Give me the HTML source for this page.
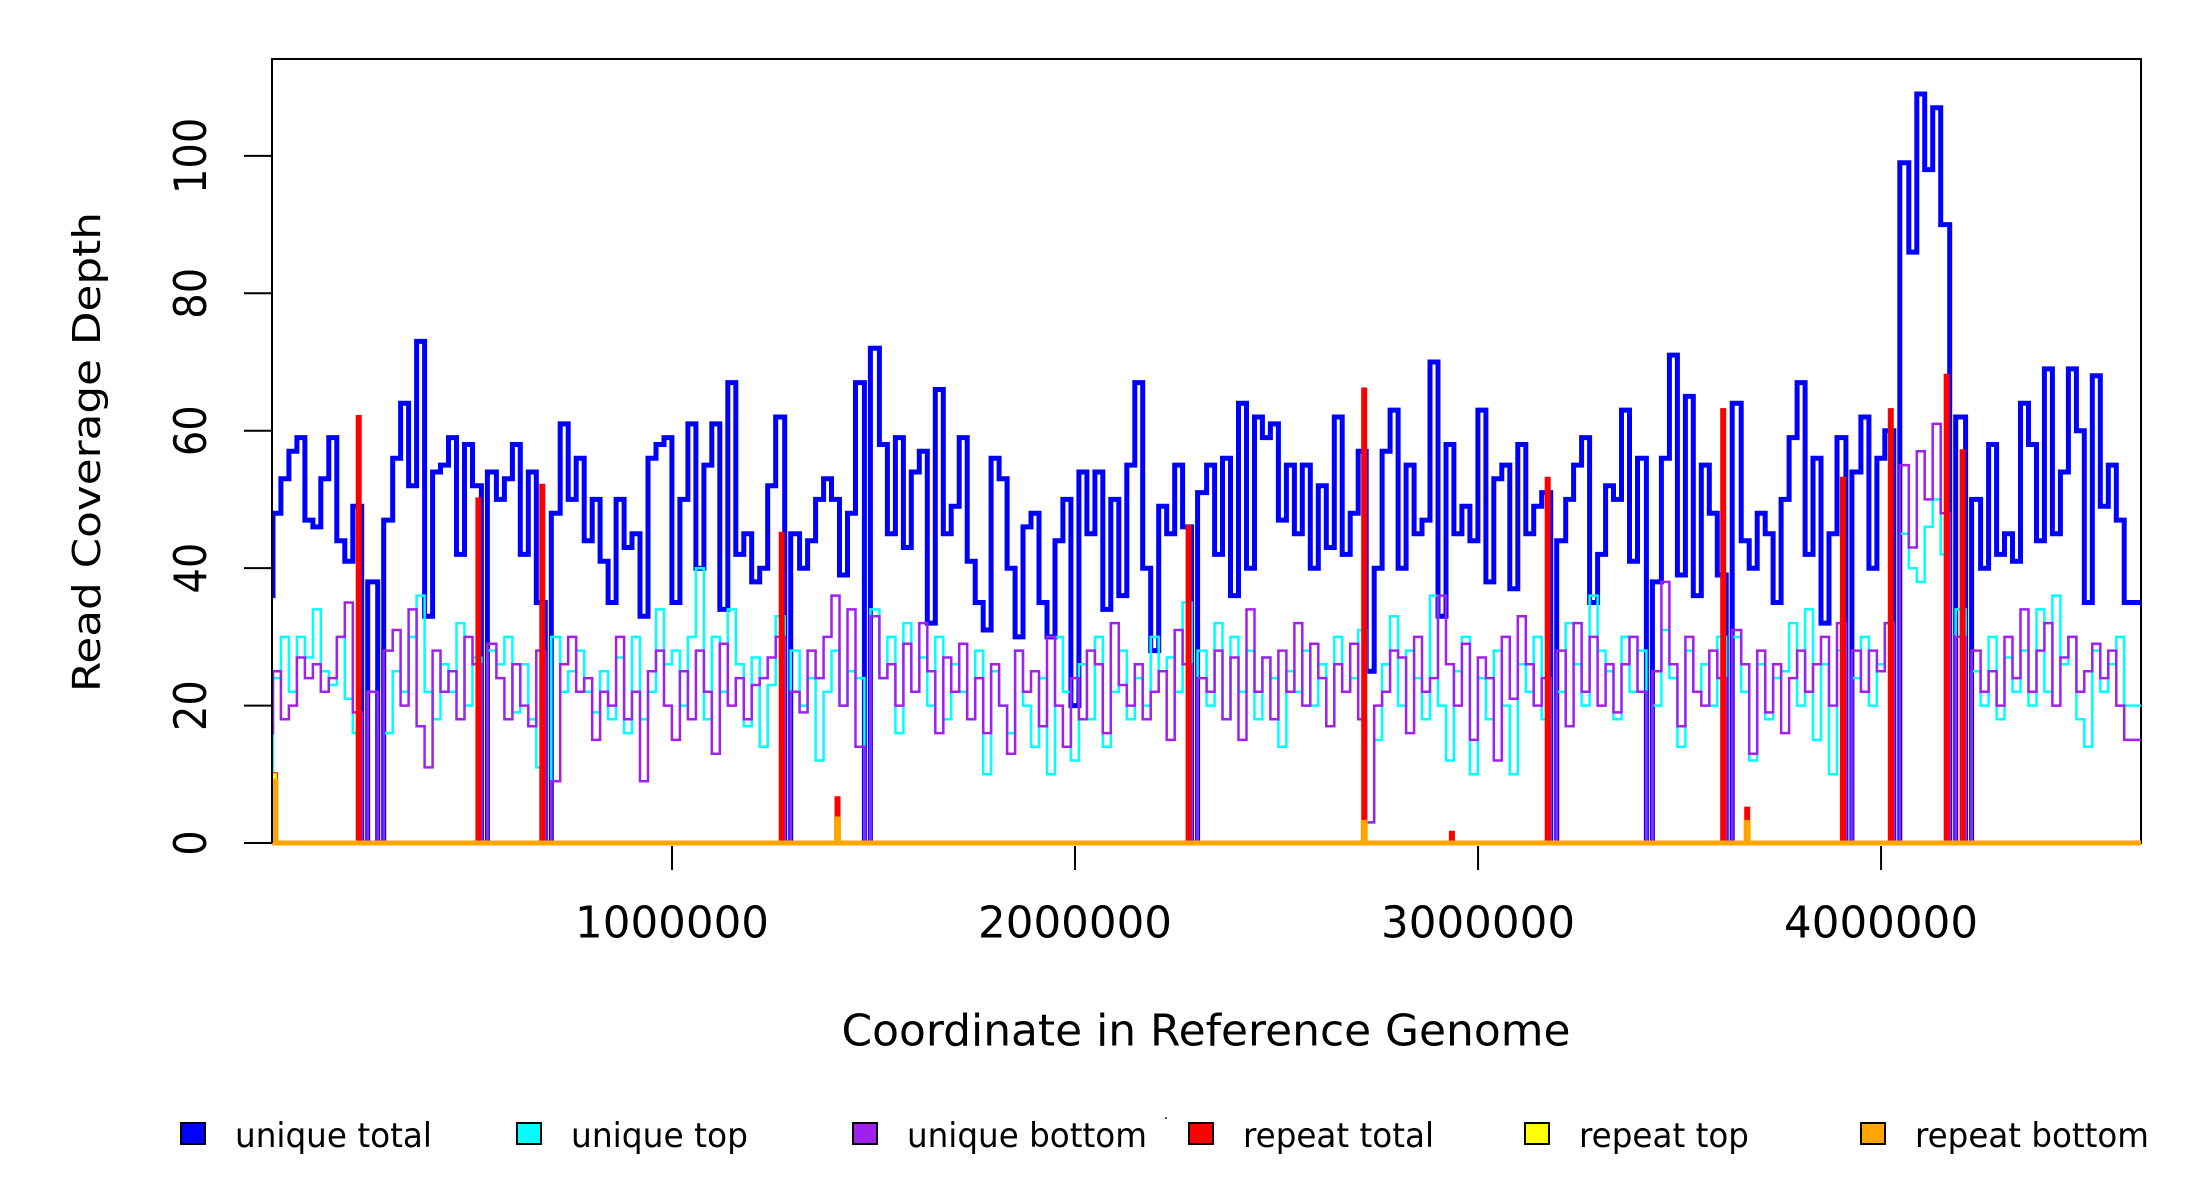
<!DOCTYPE html>
<html><head><meta charset="utf-8"><style>
html,body{margin:0;padding:0;background:#fff;}
svg{display:block;font-family:"DejaVu Sans","Liberation Sans",sans-serif;}
</style></head><body>
<svg id="chart" width="2200" height="1200" viewBox="0 0 2200 1200" xmlns="http://www.w3.org/2000/svg">
<defs><clipPath id="plotclip"><rect x="272" y="59" width="1869" height="790"/></clipPath></defs>
<rect x="0" y="0" width="2200" height="1200" fill="#fff"/>
<rect x="272" y="59" width="1869" height="784" fill="none" stroke="#000" stroke-width="2"/>
<g id="series" clip-path="url(#plotclip)"></g>
<line x1="272" y1="59" x2="272" y2="843" stroke="#000" stroke-width="2"/>
<g id="axes"></g>
<text x="87" y="452" transform="rotate(-90 87 452)" text-anchor="middle" dominant-baseline="central" font-size="38" textLength="480" lengthAdjust="spacingAndGlyphs">Read Coverage Depth</text>
<text x="1206" y="1031" text-anchor="middle" dominant-baseline="central" font-size="44" textLength="729" lengthAdjust="spacingAndGlyphs">Coordinate in Reference Genome</text>
<g id="legend"></g>
<rect x="1165" y="1117" width="2" height="2" fill="#555"/>
</svg>
<script>
const binStart = -10000;
const binWidth = 19800;
const yTicks = [0, 20, 40, 60, 80, 100];
const xTicks = [1000000, 2000000, 3000000, 4000000];
const xTickLabels = ["1000000", "2000000", "3000000", "4000000"];
const uniqueTotal = [36,48,53,57,59,47,46,53,59,44,
41,49,0,38,0,47,56,64,52,73,
33,54,55,59,42,58,52,0,54,50,
53,58,42,54,35,0,48,61,50,56,
44,50,41,35,50,43,45,33,56,58,
59,35,50,61,40,55,61,34,67,42,
45,38,40,52,62,0,45,40,44,50,
53,50,39,48,67,0,72,58,45,59,
43,54,57,32,66,45,49,59,41,35,
31,56,53,40,30,46,48,35,30,44,
50,20,54,45,54,34,50,36,55,67,
40,28,49,45,55,46,0,51,55,42,
56,36,64,40,62,59,61,47,55,45,
55,40,52,43,62,42,48,57,25,40,
57,63,40,55,45,47,70,33,58,45,
49,44,63,38,53,55,37,58,45,49,
51,0,44,50,55,59,35,42,52,50,
63,41,56,0,38,56,71,39,65,36,
55,48,39,0,64,44,40,48,45,35,
50,59,67,42,56,32,45,59,0,54,
62,40,56,60,0,99,86,109,98,107,
90,0,62,0,50,40,58,42,45,41,
64,58,44,69,45,54,69,60,35,68,
49,55,47,35,35];
const uniqueTop = [10,24,30,22,30,27,34,25,23,30,
21,16,0,22,0,16,25,22,30,36,
22,18,26,22,32,20,27,0,28,26,
30,19,26,18,11,0,30,22,25,28,
22,19,25,18,27,16,30,18,22,34,
26,28,20,30,40,18,30,22,34,26,
17,27,14,23,33,0,28,20,24,12,
22,28,20,25,24,0,34,24,30,16,
32,22,27,20,30,18,26,22,18,28,
10,25,20,16,28,20,14,24,10,30,
22,12,26,18,30,14,22,28,18,24,
20,30,25,27,22,35,0,28,20,32,
18,30,22,28,18,27,24,14,25,22,
28,20,26,17,30,22,24,31,3,15,
26,33,20,28,24,18,36,20,12,25,
30,10,24,18,28,20,10,26,22,30,
18,0,22,32,26,20,36,28,25,18,
30,22,28,0,20,31,24,14,28,22,
26,20,30,0,30,22,12,26,18,24,
25,32,20,34,15,26,10,28,0,24,
30,20,26,32,0,45,40,38,46,50,
42,0,34,0,25,20,30,18,27,22,
28,20,34,22,36,26,30,18,14,28,
22,26,30,20,20];
const uniqueBottom = [16,25,18,20,27,24,26,22,24,30,
35,19,0,22,0,28,31,20,34,17,
11,28,22,25,18,30,26,0,29,24,
18,26,20,17,28,0,9,26,30,22,
24,15,22,20,30,18,22,9,25,28,
20,15,25,18,28,22,13,29,20,24,
18,23,24,27,30,0,22,19,28,24,
30,36,20,34,14,0,33,24,26,20,
29,22,32,25,16,27,22,29,18,24,
16,26,20,13,28,22,25,17,30,20,
14,24,18,28,26,16,32,23,20,26,
18,22,25,15,31,26,0,24,22,28,
18,27,15,34,22,27,18,28,22,32,
20,29,24,17,26,22,29,18,3,20,
22,28,27,16,30,22,24,36,26,20,
29,15,27,24,12,30,21,33,26,20,
24,0,28,17,32,22,30,20,26,19,
26,30,22,0,25,38,26,17,30,22,
20,28,24,0,31,26,13,28,19,26,
16,24,28,22,26,30,20,32,0,28,
22,28,25,32,0,55,43,57,50,61,
48,0,30,0,28,22,25,20,30,24,
34,22,28,32,20,27,30,22,25,29,
24,28,20,15,15];
const repeatSpikeBins = [0, 12, 27, 35, 65, 72, 116, 138, 149, 161, 183, 186, 198, 204, 211, 213];
const repeatTotalSpikes = [10, 62, 50, 52, 45, 6.5, 46, 66, 1.5, 53, 63, 5, 53, 63, 68, 57];
const repeatTopSpikes = [10, 0, 0, 0, 0, 3.5, 0, 3, 0, 0, 0, 3, 0, 0, 0, 0];
const repeatBottomSpikes = [9, 0, 0, 0, 0, 3.5, 0, 3, 0, 0, 0, 3, 0, 0, 0, 0];

const X0 = 272, X1 = 2141, XMIN = 7400, XMAX = 4645000;
const Y0 = 843, YTOP = 59, YMAXV = 114.1;
const NARROW = 3;
function xs(v){ return X0 + (v - XMIN) / (XMAX - XMIN) * (X1 - X0); }
function ys(v){ return Y0 - v / YMAXV * (Y0 - YTOP); }
const NS = "http://www.w3.org/2000/svg";
function expand(bins, vals){
  const a = new Array(uniqueTotal.length).fill(0);
  bins.forEach((b, k) => { a[b] = vals[k]; });
  return a;
}
function binEdges(i, n){
  const xa = xs(binStart + i * binWidth);
  const xb = i === n - 1 ? xs(XMAX) + 5 : xs(binStart + (i + 1) * binWidth);
  return [xa, xb];
}
function dipPath(vals){
  const pts = [];
  const n = vals.length;
  for (let i = 0; i < n; i++){
    const [xa, xb] = binEdges(i, n);
    if (vals[i] === 0){
      const prev = i > 0 ? vals[i - 1] : vals[i + 1];
      const next = i < n - 1 ? vals[i + 1] : prev;
      const xm = (xa + xb) / 2;
      pts.push([xa, prev], [xm - NARROW, prev], [xm - NARROW, 0], [xm + NARROW, 0], [xm + NARROW, next], [xb, next]);
    } else {
      pts.push([xa, vals[i]], [xb, vals[i]]);
    }
  }
  return pts.map((p, k) => (k ? "L" : "M") + p[0].toFixed(1) + "," + ys(p[1]).toFixed(1)).join("");
}
function spikePath(vals, half){
  const pts = [];
  const n = vals.length;
  for (let i = 0; i < n; i++){
    const [xa, xb] = binEdges(i, n);
    if (vals[i] !== 0){
      const xm = i === 0 ? xa + 10 : (xa + xb) / 2 - 6;
      pts.push([xa, 0], [xm - half, 0], [xm - half, vals[i]], [xm + half, vals[i]], [xm + half, 0], [xb, 0]);
    } else {
      pts.push([xa, 0], [xb, 0]);
    }
  }
  return pts.map((p, k) => (k ? "L" : "M") + p[0].toFixed(1) + "," + ys(p[1]).toFixed(1)).join("");
}
const seriesG = document.getElementById("series");
const seriesDefs = [
  ["unique-total-line", dipPath(uniqueTotal), "#0000FF", 5],
  ["unique-top-line", dipPath(uniqueTop), "#00FFFF", 2.5],
  ["unique-bottom-line", dipPath(uniqueBottom), "#A020F0", 2.5],
  ["repeat-total-line", spikePath(expand(repeatSpikeBins, repeatTotalSpikes), 1), "#FF0000", 4],
  ["repeat-top-line", spikePath(expand(repeatSpikeBins, repeatTopSpikes), 1), "#FFFF00", 2],
  ["repeat-bottom-line", spikePath(expand(repeatSpikeBins, repeatBottomSpikes), 1), "#FFA500", 5]
];
seriesDefs.forEach(s => {
  const p = document.createElementNS(NS, "path");
  p.setAttribute("d", s[1]);
  p.setAttribute("fill", "none");
  p.setAttribute("stroke", s[2]);
  p.setAttribute("stroke-width", s[3]);
  
  
  seriesG.appendChild(p);
});
const axes = document.getElementById("axes");
yTicks.forEach(t => {
  const y = ys(t);
  const l = document.createElementNS(NS, "line");
  l.setAttribute("x1", 244); l.setAttribute("x2", 272);
  l.setAttribute("y1", y); l.setAttribute("y2", y);
  l.setAttribute("stroke", "#000"); l.setAttribute("stroke-width", 2);
  
  
  axes.appendChild(l);
  const tx = document.createElementNS(NS, "text");
  tx.setAttribute("x", 0); tx.setAttribute("y", 0);
  tx.setAttribute("transform", "translate(192 " + y + ") rotate(-90) scale(1 1.12)");
  tx.setAttribute("text-anchor", "middle");
  tx.setAttribute("dominant-baseline", "central");
  tx.setAttribute("font-size", "40");
  tx.textContent = String(t);
  
  
  axes.appendChild(tx);
});
xTicks.forEach((t, k) => {
  const x = xs(t);
  const l = document.createElementNS(NS, "line");
  l.setAttribute("x1", x); l.setAttribute("x2", x);
  l.setAttribute("y1", 846); l.setAttribute("y2", 870);
  l.setAttribute("stroke", "#000"); l.setAttribute("stroke-width", 2);
  
  
  axes.appendChild(l);
  const tx = document.createElementNS(NS, "text");
  tx.setAttribute("x", x); tx.setAttribute("y", 923);
  tx.setAttribute("text-anchor", "middle");
  tx.setAttribute("dominant-baseline", "central");
  tx.setAttribute("font-size", "44");
  tx.setAttribute("textLength", "194");
  tx.setAttribute("lengthAdjust", "spacingAndGlyphs");
  tx.textContent = xTickLabels[k];
  
  
  axes.appendChild(tx);
});
const legendNames = ["unique total", "unique top", "unique bottom", "repeat total", "repeat top", "repeat bottom"];
const legendColors = ["#0000FF", "#00FFFF", "#A020F0", "#FF0000", "#FFFF00", "#FFA500"];
const legendTextLen = [197, 177, 240, 191, 170, 234];
const legend = document.getElementById("legend");
legendNames.forEach((n, i) => {
  const x = 181 + i * 336;
  const r = document.createElementNS(NS, "rect");
  r.setAttribute("x", x); r.setAttribute("y", 1123);
  r.setAttribute("width", 24); r.setAttribute("height", 21);
  r.setAttribute("fill", legendColors[i]); r.setAttribute("stroke", "#000"); r.setAttribute("stroke-width", 2);
  
  
  legend.appendChild(r);
  const tx = document.createElementNS(NS, "text");
  tx.setAttribute("x", x + 54); tx.setAttribute("y", 1136);
  tx.setAttribute("dominant-baseline", "central");
  tx.setAttribute("font-size", "34");
  tx.setAttribute("textLength", legendTextLen[i]);
  tx.setAttribute("lengthAdjust", "spacingAndGlyphs");
  tx.textContent = n;
  
  
  legend.appendChild(tx);
});
</script>
</body></html>
